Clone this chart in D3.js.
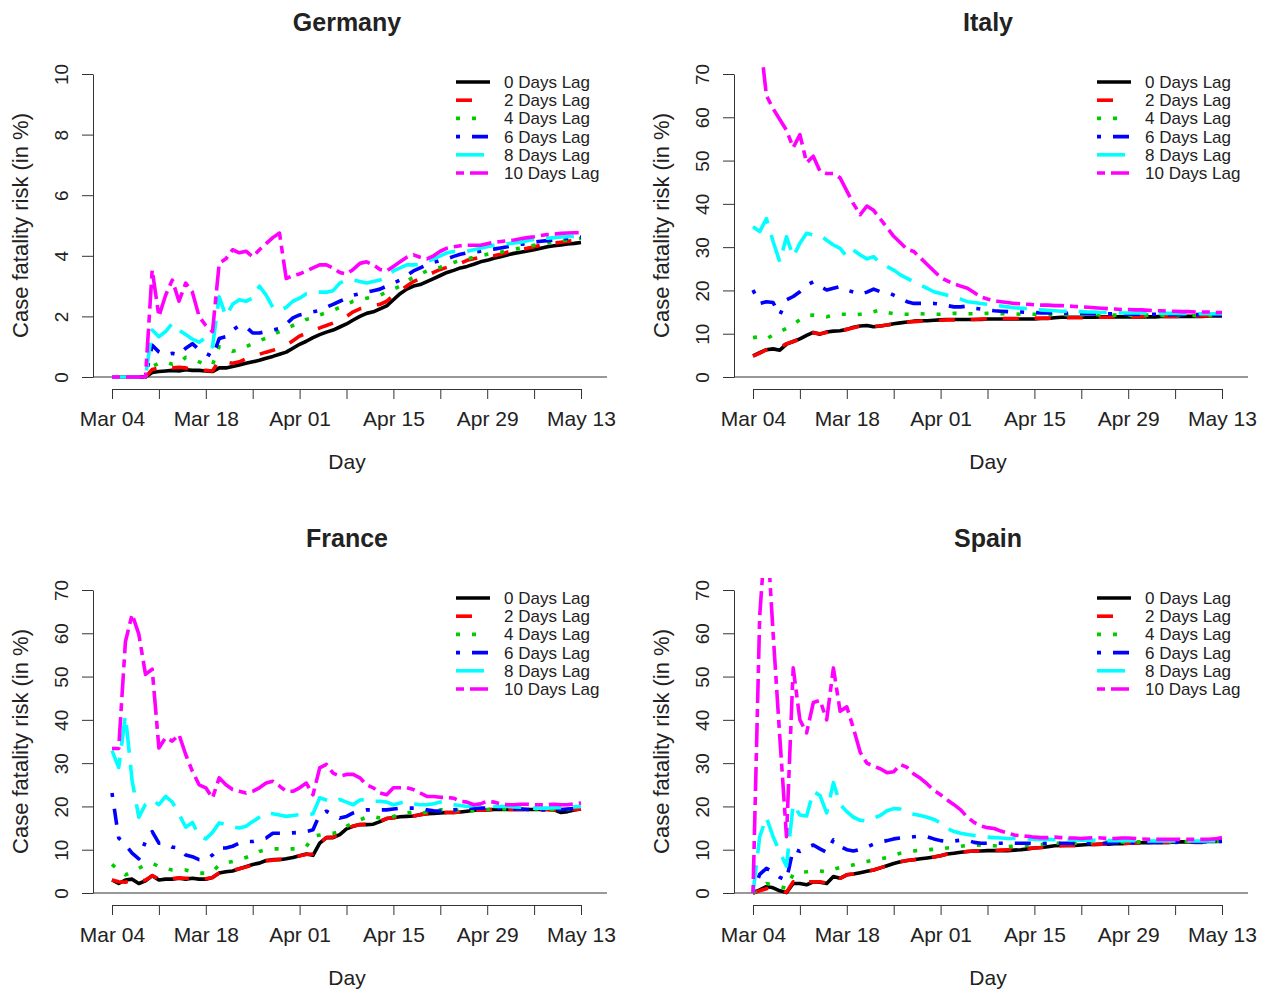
<!DOCTYPE html>
<html>
<head>
<meta charset="utf-8">
<script src="https://d3js.org/d3.v7.min.js"></script>
<style>
    body { margin: 0; background: #ffffff; }
    text { font-family: "Liberation Sans", Arial, sans-serif; fill: #222222; }
    .axis path, .axis line { stroke: #333333; stroke-width: 1px; }
</style>
</head>
<body>
<script>

    // values, one per day from Mar 04 (index 0) to May 13 (index 70)

    var germany0 = [0,0,0,0,0,0, 0.15,0.18,0.2,0.22,0.2,0.24,0.22,0.22,0.2,0.18, 0.3,0.3,0.35,0.4,0.45,0.5,0.55,0.62,0.68,0.75, 0.82,0.95,1.08,1.18,1.3,1.4,1.48,1.55,1.65,1.75, 1.88,2.0,2.1,2.15,2.25,2.35,2.55,2.75,2.9,3.0, 3.05,3.15,3.25,3.35,3.45,3.52,3.6,3.65,3.72,3.8, 3.85,3.92,3.97,4.03,4.08,4.12,4.16,4.2,4.25,4.3, 4.33,4.36,4.39,4.41,4.44];
    var germany2 = [0,0,0,0,0,0, 0.25,0.3,0.35,0.3,0.32,0.3,0.25,0.2,0.22,0.2, 0.55,0.5,0.45,0.5,0.6,0.65,0.75,0.82,0.88,0.95, 1.05,1.2,1.35,1.45,1.55,1.62,1.7,1.78,1.9,2.0, 2.15,2.25,2.3,2.35,2.4,2.5,2.7,2.85,3.0,3.15, 3.25,3.35,3.45,3.55,3.62,3.68,3.75,3.85,3.9,3.95, 4.0,4.0,4.05,4.12,4.18,4.2,4.25,4.3,4.35,4.4, 4.42,4.45,4.48,4.5,4.52];
    var germany4 = [0,0,0,0,0,0, 0.35,0.45,0.5,0.42,0.45,0.65,0.6,0.5,0.42,0.4, 1.0,0.95,0.85,0.9,1.0,1.1,1.2,1.28,1.4,1.5, 1.6,1.7,1.8,1.9,1.95,2.05,2.12,2.2,2.3,2.4, 2.5,2.55,2.6,2.65,2.7,2.8,2.9,3.0,3.15,3.3, 3.4,3.5,3.55,3.62,3.7,3.78,3.85,3.9,3.95,4.0, 4.05,4.08,4.12,4.18,4.22,4.25,4.3,4.35,4.38,4.42, 4.45,4.5,4.52,4.55,4.58];
    var germany6 = [0,0,0,0,0,0, 1.05,0.83,0.73,0.78,0.73,0.95,1.1,0.9,0.78,0.67, 1.27,1.33,1.55,1.7,1.66,1.45,1.45,1.5,1.55,1.6, 1.75,1.95,2.05,2.1,2.15,2.2,2.3,2.4,2.5,2.6, 2.7,2.75,2.8,2.85,2.9,3.0,3.1,3.2,3.35,3.5, 3.6,3.7,3.78,3.85,3.9,3.98,4.05,4.1,4.12,4.15, 4.18,4.22,4.26,4.3,4.35,4.38,4.4,4.45,4.48,4.5, 4.52,4.55,4.58,4.6,4.62];
    var germany8 = [0,0,0,0,0,0, 1.55,1.33,1.5,1.77,1.55,1.4,1.25,1.15,1.3,1.0, 2.65,2.0,2.4,2.55,2.5,2.6,3.0,2.7,2.3,2.2, 2.3,2.5,2.6,2.75,2.8,2.8,2.8,2.85,3.1,3.2, 3.2,3.15,3.1,3.15,3.2,3.35,3.5,3.6,3.7,3.7, 3.72,3.8,3.9,4.0,4.1,4.14,4.14,4.15,4.2,4.25, 4.3,4.35,4.38,4.4,4.42,4.45,4.5,4.55,4.58,4.58, 4.6,4.62,4.63,4.64,4.65];
    var germany10 = [0,0,0,0,0,0, 3.53,2.0,2.7,3.2,2.5,3.1,2.8,2.0,1.7,1.5, 3.75,3.9,4.2,4.1,4.15,3.97,4.2,4.4,4.6,4.75, 3.25,3.35,3.4,3.5,3.6,3.7,3.7,3.6,3.45,3.4, 3.55,3.75,3.8,3.7,3.55,3.5,3.65,3.8,3.95,4.03, 3.95,3.9,4.0,4.15,4.25,4.3,4.33,4.35,4.35,4.35, 4.4,4.45,4.47,4.5,4.52,4.56,4.6,4.63,4.67,4.7, 4.72,4.74,4.75,4.76,4.76];

    var italy0 = [4.9,5.6,6.3,6.5,6.2,7.6,8.2,8.8,9.6,10.3, 9.9,10.4,10.6,10.7,11.0,11.5,11.8,11.9,11.6,11.8, 12.0,12.3,12.5,12.7,12.9,13.0,13.0,13.1,13.2,13.3, 13.3,13.3,13.3,13.3,13.3,13.4,13.4,13.4,13.4,13.4, 13.4,13.4,13.4,13.5,13.5,13.7,13.8,13.8,13.8,13.8, 13.8,13.8,13.9,13.9,13.9,13.9,13.9,13.9,13.9,13.9, 13.9,14.0,14.0,14.0,14.0,14.0,14.0,14.0,14.1,14.1,14.1];
    var italy2 = [4.8,5.5,6.3,6.6,6.8,7.7,8.2,8.7,9.5,10.2, 10.0,10.3,10.6,10.7,11.0,11.4,11.8,11.8,11.7,11.8, 12.0,12.2,12.5,12.7,12.8,12.9,13.0,13.1,13.1,13.2, 13.2,13.3,13.3,13.3,13.4,13.4,13.4,13.5,13.5,13.5, 13.5,13.5,13.6,13.6,13.6,13.6,13.7,13.7,13.7,13.7, 13.8,13.8,13.8,13.8,13.9,13.9,13.9,13.9,14.0,14.0, 14.0,14.0,14.0,14.0,14.0,14.0,14.1,14.1,14.1,14.1,14.2];
    var italy4 = [9.1,9.3,8.8,9.7,10.5,11.2,12.2,13.2,14.2,14.3, 14.1,13.9,14.3,14.5,14.5,14.3,14.5,14.7,15.1,15.5, 14.9,14.6,14.5,14.5,14.6,14.6,14.5,14.5,14.5,14.6, 14.7,14.7,14.6,14.6,14.6,14.7,14.7,14.6,14.6,14.6, 14.5,14.5,14.5,14.5,14.5,14.4,14.4,14.4,14.4,14.4, 14.4,14.4,14.3,14.3,14.3,14.3,14.3,14.3,14.3,14.3, 14.3,14.2,14.2,14.2,14.2,14.2,14.2,14.2,14.2,14.2,14.2];
    var italy6 = [20.1,17.0,17.4,17.2,14.3,17.8,18.6,19.7,21.2,22.0, 20.9,20.1,20.5,20.9,20.1,19.6,19.1,19.6,20.3,19.7, 19.6,18.9,18.2,17.4,17.0,17.0,17.0,17.0,16.8,16.5, 16.2,16.2,16.4,15.9,15.7,15.5,15.3,15.2,15.1,15.0, 15.0,14.9,14.9,14.8,14.8,14.8,14.8,14.7,14.7,14.7, 14.7,14.6,14.6,14.6,14.6,14.6,14.5,14.5,14.5,14.5, 14.5,14.5,14.4,14.4,14.4,14.4,14.4,14.4,14.4,14.4,14.4];
    var italy8 = [34.7,33.6,36.6,31.3,26.6,32.4,27.8,30.9,33.2,32.8, 32.8,31.6,30.5,29.7,27.8,29.3,28.2,27.3,27.8,26.3, 25.5,24.7,23.6,22.8,22.0,21.2,20.5,19.7,19.3,18.9, 18.6,18.0,17.4,17.2,17.0,16.8,16.6,16.4,16.2,16.0, 15.9,15.8,15.6,15.5,15.4,15.3,15.2,15.2,15.1,15.1, 15.0,15.0,14.9,14.9,14.9,14.8,14.8,14.8,14.8,14.7, 14.7,14.7,14.7,14.7,14.7,14.6,14.6,14.6,14.6,14.6,14.6];
    var italy10 = [95,79,65,62,59.5,57,53,56,49.5,51, 47.5,47,47,46,43,40,37.5,39.5,38.5,36.5, 34.5,32.5,31,29.5,29,27.5,26,24.5,23,22.2, 21.5,21,20.5,19.5,18.5,18,17.6,17.4,17.2,17.0, 16.9,16.8,16.7,16.6,16.6,16.5,16.5,16.4,16.3,16.2, 16.1,16.0,15.9,15.8,15.7,15.6,15.6,15.5,15.5,15.4, 15.3,15.3,15.2,15.2,15.1,15.1,15.0,15.0,15.0,14.9,14.9];

    var france0 = [3.0,2.2,3.0,3.2,2.2,2.8,4.0,3.0,3.2,3.2, 3.4,3.2,3.4,3.2,3.2,3.6,4.6,4.9,5.1,5.6, 6.1,6.6,6.9,7.5,7.7,7.7,7.9,8.2,8.6,9.0, 8.7,11.5,12.8,12.8,13.5,14.8,15.4,15.8,15.8,15.9, 16.5,17.2,17.4,17.6,17.7,17.8,18.1,18.3,18.4,18.5, 18.6,18.6,18.7,18.9,19.1,19.2,19.2,19.3,19.3,19.3, 19.3,19.3,19.3,19.3,19.3,19.3,19.2,18.6,18.8,19.2,19.4];
    var france2 = [3.0,2.6,2.5,3.0,2.6,3.0,4.0,3.2,3.3,3.3, 3.5,3.4,3.4,3.3,3.3,3.6,4.6,4.9,5.2,5.6, 6.0,6.5,6.8,7.4,7.6,7.8,8.0,8.3,8.6,8.9, 9.0,11.5,12.8,12.9,13.6,14.9,15.5,15.8,15.9,16.0, 16.6,17.2,17.4,17.6,17.7,17.8,18.1,18.3,18.4,18.5, 18.6,18.6,18.7,18.9,19.1,19.2,19.2,19.3,19.3,19.3, 19.3,19.3,19.3,19.3,19.3,19.3,19.2,19.2,19.3,19.3,19.4];
    var france4 = [6.6,5.3,4.2,4.9,5.7,6.5,6.9,6.1,5.7,5.3, 5.3,5.3,4.9,4.6,4.6,4.9,6.5,6.9,7.3,7.7, 8.2,8.8,9.6,10.0,10.2,10.2,10.2,10.2,10.4,10.7, 13.1,13.4,13.8,13.8,14.2,15.4,16.2,16.9,17.5,17.7, 17.3,17.3,17.7,18.2,18.5,18.7,18.3,18.7,18.7,19.2, 19.2,19.0,19.2,18.9,19.0,19.2,19.3,19.4,19.4,19.4, 19.4,19.4,19.4,19.4,19.4,19.3,19.3,19.3,19.3,19.4,19.4];
    var france6 = [23.1,12.7,11.1,9.2,7.9,11.9,14.2,11.5,11.5,10.6, 10.4,8.8,8.4,7.7,7.7,8.8,10.4,10.4,10.8,11.5, 11.9,11.9,12.3,12.7,13.8,13.8,13.8,13.9,14.0,14.2, 14.6,18.1,18.9,18.1,17.3,17.7,18.5,18.9,19.2,19.2, 19.2,19.2,19.4,19.6,19.6,19.6,19.6,19.2,19.0,18.9, 19.0,19.2,19.4,19.6,19.6,19.6,19.6,19.6,19.6,19.5, 19.4,19.4,19.3,19.3,19.2,19.2,19.2,19.3,19.4,19.5,19.6];
    var france8 = [32.9,29.0,41.0,26.0,17.5,20.5,21.5,20.4,22.3,21.0, 18.2,15.2,16.3,13.2,12.5,14.0,16.2,15.8,15.3,15.0, 15.4,16.5,17.5,18.5,18.3,18.0,17.7,17.9,18.1,17.9, 18.3,22.0,21.5,21.0,21.6,21.0,20.4,21.5,21.6,21.2, 21.2,21.0,20.4,20.8,21.2,20.6,20.4,20.4,20.6,21.0, 20.8,20.4,20.2,20.0,20.2,20.4,20.2,20.0,20.0,20.0, 19.9,19.8,19.7,19.6,19.6,19.6,19.7,19.7,19.8,19.9,20.0];
    var france10 = [33.4,33.4,58.0,64.4,59.8,50.5,51.7,33.5,35.9,35.1, 36.6,32.0,28.1,25.0,24.3,21.9,26.6,25.0,23.9,23.5, 23.1,23.5,24.3,25.4,25.8,24.7,23.5,23.5,24.3,25.4, 22.7,28.9,29.7,27.7,27.0,27.4,27.4,26.6,25.0,24.3, 23.1,22.7,24.3,24.3,24.3,23.9,23.1,22.3,22.3,22.1, 22.1,21.9,21.2,21.0,20.4,20.6,21.2,21.0,20.6,20.4, 20.4,20.5,20.5,20.4,20.4,20.4,20.5,20.4,20.4,20.6,20.8];

    var spain0 = [0,0.7,1.5,1.2,0.5,0.1,2.2,2.2,1.9,2.6, 2.5,2.2,3.8,3.4,4.2,4.4,4.7,5.0,5.3,5.8, 6.3,6.8,7.2,7.5,7.7,7.9,8.1,8.3,8.6,9.0, 9.2,9.4,9.6,9.7,9.7,9.8,9.8,9.8,9.8,9.9, 10.0,10.2,10.4,10.5,10.7,10.9,11.0,11.0,11.0,11.1, 11.2,11.2,11.3,11.3,11.4,11.4,11.5,11.5,11.6,11.6, 11.7,11.7,11.7,11.8,11.8,11.8,11.8,11.9,11.9,11.9,12.0];
    var spain2 = [0,0.5,1.0,1.1,0.6,0.2,2.6,2.0,2.6,2.6, 2.6,2.3,3.6,3.4,4.2,4.4,4.7,5.0,5.3,5.8, 6.3,6.8,7.2,7.5,7.7,7.9,8.1,8.3,8.6,9.0, 9.2,9.4,9.6,9.7,9.7,9.8,9.8,9.9,10.0,10.1, 10.2,10.3,10.4,10.5,10.6,10.8,10.9,11.0,11.0,11.1, 11.2,11.2,11.3,11.3,11.4,11.4,11.5,11.5,11.6,11.6, 11.7,11.7,11.7,11.8,11.8,11.8,11.7,11.7,11.8,11.9,12.0];
    var spain4 = [0,1.2,2.2,1.9,1.5,1.1,4.4,4.8,4.9,5.2, 5.1,4.9,5.5,5.9,6.1,6.5,7.0,7.3,7.6,7.9, 8.2,8.7,9.2,9.5,9.7,9.9,10.0,10.1,10.2,10.4, 10.6,10.8,11.0,11.0,11.1,11.0,10.9,10.8,10.7,10.8, 10.9,11.0,11.1,11.2,11.3,11.5,11.5,11.5,11.5,11.6, 11.6,11.6,11.7,11.7,11.7,11.8,11.8,11.8,11.8,11.9, 11.9,11.9,11.9,11.9,11.9,11.9,11.9,11.9,11.9,11.9,11.9];
    var spain6 = [0,4.3,5.7,4.9,3.6,3.0,10.2,9.6,10.5,11.1, 10.2,9.4,12.3,10.8,10.0,9.7,10.1,10.6,11.3,11.8, 12.1,12.5,12.7,12.8,13.0,13.2,13.0,12.5,12.1,11.9, 12.0,12.2,12.2,11.7,11.5,11.5,11.5,11.5,11.5,11.5, 11.5,11.5,11.4,11.4,11.5,11.5,11.5,11.5,11.5,11.5, 11.5,11.5,11.5,11.5,11.6,11.6,11.6,11.6,11.7,11.7, 11.7,11.7,11.7,11.7,11.8,11.8,11.8,11.8,11.9,11.9,11.9];
    var spain8 = [0,13.0,17.5,13.0,9.5,6.2,20.5,18.0,17.8,23.5, 22.5,18.5,25.5,20.5,18.8,17.5,16.8,16.6,17.3,17.9, 19.0,19.5,19.4,18.7,18.2,17.9,17.5,17.0,16.2,14.9, 14.2,13.8,13.5,13.3,13.1,12.9,12.8,12.7,12.6,12.6, 12.5,12.5,12.4,12.4,12.4,12.3,12.3,12.3,12.3,12.2, 12.2,12.2,12.2,12.1,12.1,12.1,12.1,12.1,12.0,12.0, 12.0,12.0,12.0,12.0,12.0,12.0,12.0,12.0,12.0,12.0,12.1];
    var spain10 = [0,64,86,60,36,13,52,40,37,44, 44.5,40,52,42,43,38,32.5,30,29.3,28.7, 27.8,28.0,29.7,29.0,27.5,26.5,25.2,23.7,22.7,21.5, 20.4,19.2,17.5,16.3,15.5,15.1,14.9,14.3,13.9,13.4, 13.2,13.1,12.9,12.8,12.8,12.9,12.8,12.7,12.7,12.6, 12.7,12.8,12.7,12.6,12.6,12.7,12.7,12.6,12.5,12.4, 12.4,12.4,12.4,12.4,12.4,12.4,12.4,12.4,12.4,12.5,12.8];

    var countries = ["Germany", "Italy", "France", "Spain"];
    var lagLabels = ["0 Days Lag", "2 Days Lag", "4 Days Lag", "6 Days Lag", "8 Days Lag", "10 Days Lag"];
    var tickLabels = ["Mar 04", "Mar 18", "Apr 01", "Apr 15", "Apr 29", "May 13"];
    var yTicksGermany = [0, 2, 4, 6, 8, 10];
    var yTicksOther = [0, 10, 20, 30, 40, 50, 60, 70];

    // R line types 1..6 at lwd ~4
    var lagColors = ["#000000", "#ff0000", "#00cd00", "#0000ff", "#00ffff", "#ff00ff"];
    var lagDashes = [null, "16,16", "4,12", "4,12,16,12", "28,12", "8,6,24,6"];

    var panels = [
        {name: countries[0], lines: [germany0, germany2, germany4, germany6, germany8, germany10], ticks: yTicksGermany, ox: 0, oy: 0},
        {name: countries[1], lines: [italy0, italy2, italy4, italy6, italy8, italy10], ticks: yTicksOther, ox: 641, oy: 0},
        {name: countries[2], lines: [france0, france2, france4, france6, france8, france10], ticks: yTicksOther, ox: 0, oy: 516},
        {name: countries[3], lines: [spain0, spain2, spain4, spain6, spain8, spain10], ticks: yTicksOther, ox: 641, oy: 516}
    ];

    var svg = d3.select("body")
        .append("svg")
        .attr("width", 1261)
        .attr("height", 994);

    panels.forEach(function (p, k) {
        var g = svg.append("g")
            .attr("transform", "translate(" + p.ox + "," + p.oy + ")");

        var x = d3.scaleLinear()
            .domain([0, 70])
            .range([112, 581]);
        var y = d3.scaleLinear()
            .domain([0, d3.max(p.ticks)])
            .range([377, 74]);

        g.append("clipPath")
            .attr("id", "clip" + k)
            .append("rect")
            .attr("x", 93)
            .attr("y", 62)
            .attr("width", 514)
            .attr("height", 330);

        // y axis (left side of the L box)
        var yAxis = g.append("g")
            .attr("class", "axis")
            .attr("transform", "translate(93,0)")
            .call(d3.axisLeft(y).tickValues(p.ticks).tickSize(11).tickSizeOuter(0));
        yAxis.selectAll("text")
            .attr("transform", "rotate(-90)")
            .attr("x", 0)
            .attr("y", -25)
            .attr("dy", 0)
            .style("text-anchor", "middle")
            .style("font-size", "19px");

        // bottom of the L box
        g.append("line")
            .attr("x1", 93)
            .attr("x2", 607)
            .attr("y1", y(0))
            .attr("y2", y(0))
            .attr("stroke", "#333333");

        // x axis, ticks weekly, labels every second tick
        var xAxis = g.append("g")
            .attr("class", "axis")
            .attr("transform", "translate(0,389)")
            .call(d3.axisBottom(x)
                .tickValues(d3.range(0, 71, 7))
                .tickSize(10)
                .tickSizeOuter(0)
                .tickFormat(function (d) { return d % 14 === 0 ? tickLabels[d / 14] : ""; }));
        xAxis.selectAll("text")
            .attr("y", 37)
            .attr("dy", 0)
            .style("font-size", "21px");

        var line = d3.line()
            .x(function (d, i) { return x(i); })
            .y(function (d) { return y(d); });

        g.append("g")
            .attr("clip-path", "url(#clip" + k + ")")
            .selectAll("path")
            .data(p.lines)
            .enter()
            .append("path")
            .attr("d", line)
            .attr("fill", "none")
            .attr("stroke", function (d, i) { return lagColors[i]; })
            .attr("stroke-width", 3.6)
            .attr("stroke-dasharray", function (d, i) { return lagDashes[i]; })
            .attr("stroke-linejoin", "round");

        // legend
        var lx = x(70) - 125;
        var leg = g.append("g")
            .selectAll("g")
            .data(lagLabels)
            .enter()
            .append("g")
            .attr("transform", function (d, i) { return "translate(" + lx + "," + (y.range()[1] + 8 + i * 18.2) + ")"; });
        leg.append("line")
            .attr("x1", 0)
            .attr("x2", function (d, i) { return i === 0 ? 34 : 32; })
            .attr("stroke", function (d, i) { return lagColors[i]; })
            .attr("stroke-width", 3.6)
            .attr("stroke-dasharray", function (d, i) { return lagDashes[i]; });
        leg.append("text")
            .attr("x", 48)
            .attr("dy", "0.35em")
            .style("font-size", "17px")
            .text(function (d) { return d; });

        // titles
        g.append("text")
            .attr("x", 347)
            .attr("y", 31)
            .attr("text-anchor", "middle")
            .style("font-size", "25px")
            .style("font-weight", "bold")
            .text(p.name);

        g.append("text")
            .attr("x", 347)
            .attr("y", 469)
            .attr("text-anchor", "middle")
            .style("font-size", "21px")
            .text("Day");

        g.append("text")
            .attr("transform", "translate(28,225.5) rotate(-90)")
            .attr("text-anchor", "middle")
            .style("font-size", "22px")
            .text("Case fatality risk (in %)");
    });

</script>
</body>
</html>
